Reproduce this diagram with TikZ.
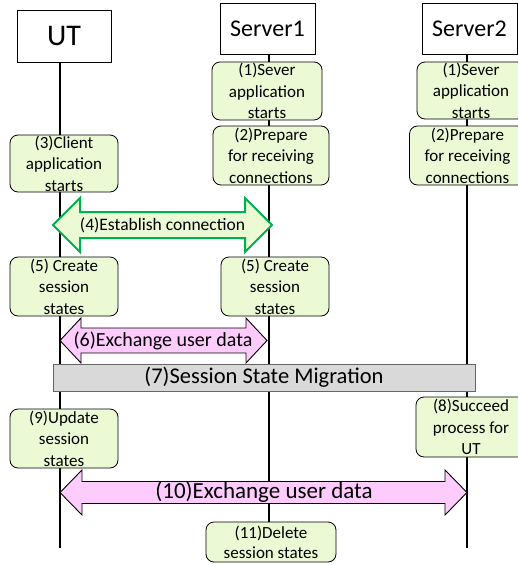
\documentclass[tikz,border=0pt]{standalone}
\usepackage{fontspec}
\setmainfont{Carlito}
\definecolor{boxfill}{RGB}{235,249,212}
\definecolor{pinkfill}{RGB}{253,204,253}
\definecolor{barfill}{RGB}{217,217,217}
\definecolor{arrgreen}{RGB}{0,176,80}
\newcommand\dblarr[7]{%
  \draw[#7] (#1,#3) -- (#1+#6,#3-#5) -- (#1+#6,#3-#4) -- (#2-#6,#3-#4) -- (#2-#6,#3-#5) -- (#2,#3)
   -- (#2-#6,#3+#5) -- (#2-#6,#3+#4) -- (#1+#6,#3+#4) -- (#1+#6,#3+#5) -- cycle;}
\begin{document}
\begin{tikzpicture}[x=1pt,y=-1pt,
  head/.style={draw=black, line width=0.8pt, fill=white, inner sep=0pt, minimum width=95, minimum height=51},
  box/.style={draw=black, line width=0.8pt, rounded corners=8pt, fill=boxfill, inner sep=0pt},
  lbl/.style={font=\fontsize{17}{21.5}\selectfont, align=center, inner sep=0pt},
  life/.style={line width=1.4pt},
  greenarr/.style={draw=arrgreen, line width=2pt, fill=boxfill, line join=miter},
  pinkarr/.style={draw=black, line width=0.9pt, fill=pinkfill, line join=miter}]
\clip (0,0) rectangle (518,565);
\fill[white] (0,0) rectangle (518,565);

% heads
\node[head, minimum width=94, minimum height=52, font=\fontsize{30}{36}\selectfont] (ut) at (64,36) {UT};
\node[head, font=\fontsize{24}{29}\selectfont] (s1) at (267.5,28.5) {Server1};
\node[head, font=\fontsize{24}{29}\selectfont] (s2) at (469.5,28.5) {Server2};

% lifelines
\coordinate (utend) at (60,548);
\coordinate (s1end) at (269,522);
\coordinate (s2end) at (467,548);
\draw[life] (utend |- ut.south) -- (utend);
\draw[life] (s1end |- s1.south) -- (s1end);
\draw[life] (s2end |- s2.south) -- (s2end);

% process boxes
\node[box, minimum width=110, minimum height=58, label={[lbl]center:(1)Sever\\application\\starts}] (s1a) at (267,91) {};
\node[box, minimum width=116, minimum height=59, label={[lbl]center:(2)Prepare\\for receiving\\connections}] (s1b) at (271,155.5) {};
\node[box, minimum width=108, minimum height=57, label={[lbl]center:(1)Sever\\application\\starts}] (s2a) at (471,90.5) {};
\node[box, minimum width=116, minimum height=59, label={[lbl]center:(2)Prepare\\for receiving\\connections}] (s2b) at (467.5,155.5) {};
\node[box, minimum width=108, minimum height=57, label={[lbl]center:(3)Client\\application\\starts}] (ut3) at (64,163.5) {};
\node[box, minimum width=108, minimum height=59, label={[lbl]center:(5) Create\\session\\states}] (ut5) at (64,286.5) {};
\node[box, minimum width=108, minimum height=59, label={[lbl]center:(5) Create\\session\\states}] (s15) at (275,286.5) {};
\node[box, minimum width=108, minimum height=59, label={[lbl]center:(9)Update\\session\\states}] (ut9) at (64,438.5) {};
\node[box, minimum width=110, minimum height=60, label={[lbl]center:(8)Succeed\\process for\\UT}] (s28) at (471,427) {};
\node[box, minimum width=130, minimum height=40, label={[lbl, font=\fontsize{17}{20}\selectfont]center:(11)Delete\\session states}] (s111) at (271,542) {};

% (4) establish connection
\dblarr{53}{272}{225}{13}{27}{27}{greenarr}
\node[font=\fontsize{17.5}{21}\selectfont, inner sep=0pt] (t4) at (162.5,225) {(4)Establish connection};

% (6) exchange user data
\dblarr{60}{267}{340.5}{12.5}{22.5}{21}{pinkarr}
\node[font=\fontsize{20}{24}\selectfont, inner sep=0pt] (t6) at (163,340.5) {(6)Exchange user data};

% (7) migration bar
\node[draw=black!60, line width=0.8pt, fill=barfill, minimum width=422, minimum height=27, inner sep=0pt,
  font=\fontsize{22.5}{27}\selectfont] (mig) at (264,377.5) {(7)Session State Migration};

% (10) exchange user data
\dblarr{60}{467}{492.5}{11}{22.5}{22}{pinkarr}
\node[font=\fontsize{23}{27}\selectfont, inner sep=0pt] (t10) at (264,492.5) {(10)Exchange user data};
\end{tikzpicture}
\end{document}
